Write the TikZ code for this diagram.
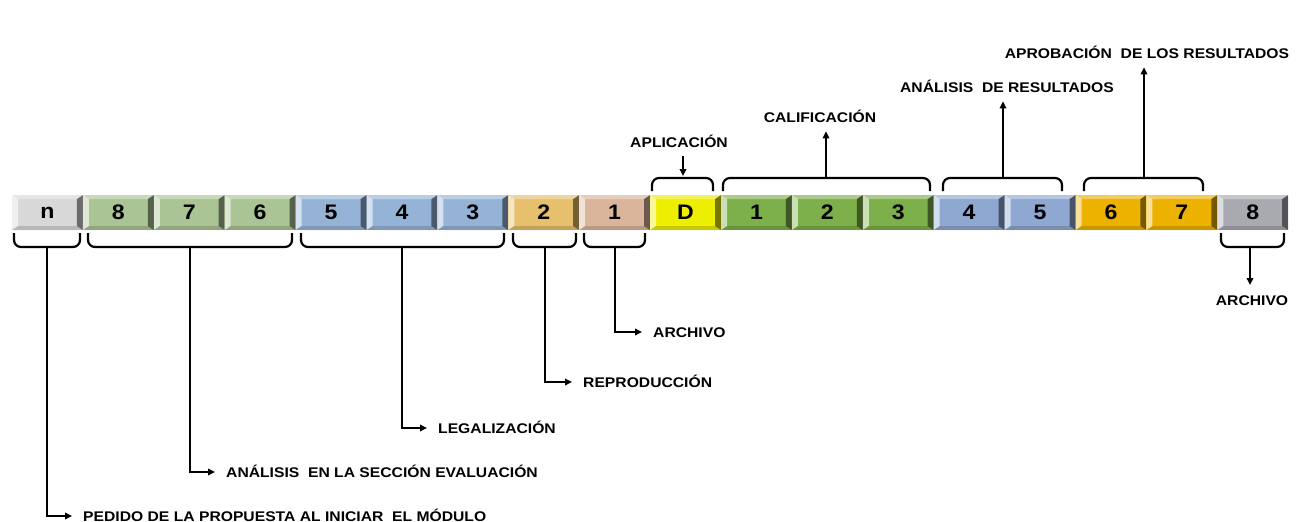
\documentclass[tikz,border=0pt]{standalone}
\usepackage{fontspec}
\setmainfont{Liberation Sans}
\newfontface\lblfont[FakeStretch=1.12]{Liberation Sans Bold}
\newfontface\numfont[FakeStretch=1.1]{Liberation Sans Bold}
\usetikzlibrary{arrows.meta}
\definecolor{cN}{HTML}{D8D8D8}
\definecolor{cGa}{HTML}{ABC495}
\definecolor{cBa}{HTML}{95B3D7}
\definecolor{cT}{HTML}{E6C06C}
\definecolor{cP}{HTML}{DAB49B}
\definecolor{cY}{HTML}{EEEE00}
\definecolor{cGb}{HTML}{7DB04A}
\definecolor{cBb}{HTML}{8EA8D1}
\definecolor{cO}{HTML}{EDB200}
\definecolor{cS}{HTML}{A8AAB0}
\tikzset{
  seg/.style={rectangle, minimum width=70.9pt, minimum height=35pt, inner sep=0pt, outer sep=0pt,
    fill=#1, text=black, font=\numfont\fontsize{21}{21}\selectfont,
    path picture={
      \fill[white,opacity=.6] (path picture bounding box.north west) -- ([shift={(6pt,-4pt)}]path picture bounding box.north west) -- ([shift={(6pt,4pt)}]path picture bounding box.south west) -- (path picture bounding box.south west) -- cycle;
      \fill[black,opacity=.5] (path picture bounding box.north east) -- ([shift={(-6pt,-4pt)}]path picture bounding box.north east) -- ([shift={(-6pt,4pt)}]path picture bounding box.south east) -- (path picture bounding box.south east) -- cycle;
      \fill[white,opacity=.35] (path picture bounding box.north west) -- ([shift={(6pt,-4pt)}]path picture bounding box.north west) -- ([shift={(-6pt,-4pt)}]path picture bounding box.north east) -- (path picture bounding box.north east) -- cycle;
      \fill[black,opacity=.15] (path picture bounding box.south west) -- ([shift={(6pt,4pt)}]path picture bounding box.south west) -- ([shift={(-6pt,4pt)}]path picture bounding box.south east) -- (path picture bounding box.south east) -- cycle;
    }},
  brace/.style={line width=2.2pt, rounded corners=7pt},
  conn/.style={line width=2.2pt, -{Triangle[length=7pt,width=6.5pt]}},
  lbl/.style={font=\lblfont\fontsize{14}{16}\selectfont, inner xsep=0pt, inner ysep=9pt, anchor=base},
  lblw/.style={lbl, anchor=base west, inner xsep=11pt, inner ysep=0pt}
}
\begin{document}
\begin{tikzpicture}[x=1pt,y=-1pt]
\useasboundingbox[fill=white] (0,0) rectangle (1299,522);
% boxes
\foreach \i/\t/\c in {0/n/cN,1/8/cGa,2/7/cGa,3/6/cGa,4/5/cBa,5/4/cBa,6/3/cBa,7/2/cT,8/1/cP,9/D/cY,
                      10/1/cGb,11/2/cGb,12/3/cGb,13/4/cBb,14/5/cBb,15/6/cO,16/7/cO,17/8/cS}
  \node[seg=\c] (b\i) at ({12+70.9*(\i+0.5)},212.5) {\t};
% lower braces
\draw[brace] (14,233) -- (14,247) -- (80,247) -- (80,233);
\coordinate (sPed) at (47,247);
\draw[brace] (88,233) -- (88,247) -- (292,247) -- (292,233);
\coordinate (sAnE) at (190,247);
\draw[brace] (301,233) -- (301,247) -- (504,247) -- (504,233);
\coordinate (sLeg) at (402,247);
\draw[brace] (513,233) -- (513,247) -- (576,247) -- (576,233);
\coordinate (sRep) at (545,247);
\draw[brace] (584,233) -- (584,247) -- (645,247) -- (645,233);
\coordinate (sArc) at (615,247);
\draw[brace] (1221,233) -- (1221,247) -- (1284,247) -- (1284,233);
\coordinate (sArc2) at (1250,247);
% upper braces
\draw[brace] (652,191) -- (652,178) -- (713,178) -- (713,191);
\coordinate (tApl) at (683,178);
\draw[brace] (723,191) -- (723,178) -- (930,178) -- (930,191);
\coordinate (tCal) at (826,178);
\draw[brace] (943,191) -- (943,178) -- (1062,178) -- (1062,191);
\coordinate (tAnR) at (1003,178);
\draw[brace] (1084,191) -- (1084,178) -- (1203,178) -- (1203,191);
\coordinate (tApr) at (1144,178);
% lower labels
\node[lblw] (lPed) at (72,521) {PEDIDO DE LA PROPUESTA AL INICIAR\ \ EL MÓDULO};
\node[lblw] (lAnE) at (215,477) {ANÁLISIS\ \ EN LA SECCIÓN EVALUACIÓN};
\node[lblw] (lLeg) at (427,433) {LEGALIZACIÓN};
\node[lblw] (lRep) at (572,387) {REPRODUCCIÓN};
\node[lblw] (lArc) at (642,337) {ARCHIVO};
\draw[conn] (sPed) |- ([yshift=5pt]lPed.base west);
\draw[conn] (sAnE) |- ([yshift=5pt]lAnE.base west);
\draw[conn] (sLeg) |- ([yshift=5pt]lLeg.base west);
\draw[conn] (sRep) |- ([yshift=5pt]lRep.base west);
\draw[conn] (sArc) |- ([yshift=5pt]lArc.base west);
% right archivo
\node[lbl,inner ysep=10pt] (lArc2) at (1252,305) {ARCHIVO};
\draw[conn] (sArc2) -- (sArc2 |- lArc2.north);
% upper labels
\node[lbl] (lApl) at (679,147) {APLICACIÓN};
\node[lbl] (lCal) at (820,122) {CALIFICACIÓN};
\node[lbl] (lAnR) at (1007,92) {ANÁLISIS\ \ DE RESULTADOS};
\node[lbl] (lApr) at (1147,58) {APROBACIÓN\ \ DE LOS RESULTADOS};
\draw[conn] (tApl |- lApl.south) -- ([yshift=2pt]tApl);
\draw[conn] (tCal) -- (tCal |- lCal.south);
\draw[conn] (tAnR) -- (tAnR |- lAnR.south);
\draw[conn] (tApr) -- (tApr |- lApr.south);
\end{tikzpicture}
\end{document}
